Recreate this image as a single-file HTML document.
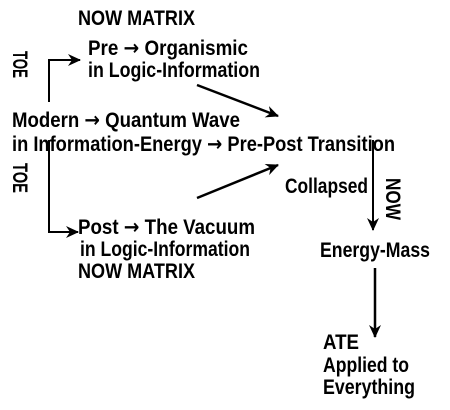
<!DOCTYPE html>
<html><head><style>
html,body{margin:0;padding:0;background:#fff;}
svg{display:block;}
text{font-family:"Liberation Sans",Arial,sans-serif;font-weight:bold;font-size:21px;fill:#000;}
.ar{font-family:"DejaVu Sans",sans-serif;font-weight:bold;}
</style></head><body>
<svg width="450" height="410" viewBox="0 0 450 410">
<defs>
<marker id="b" markerWidth="14" markerHeight="14" refX="12" refY="7" orient="auto" markerUnits="userSpaceOnUse">
<path d="M0,1 L13,7 L0,13 L4,7 Z" fill="#000"/>
</marker>
</defs>
<text x="78" y="25" textLength="117" lengthAdjust="spacingAndGlyphs">NOW MATRIX</text>
<text x="88" y="55" textLength="160" lengthAdjust="spacingAndGlyphs">Pre <tspan class="ar">→</tspan> Organismic</text>
<text x="88" y="77" textLength="172" lengthAdjust="spacingAndGlyphs">in Logic-Information</text>
<text x="12" y="127" textLength="228" lengthAdjust="spacingAndGlyphs">Modern <tspan class="ar">→</tspan> Quantum Wave</text>
<text x="12" y="151" textLength="383" lengthAdjust="spacingAndGlyphs">in Information-Energy <tspan class="ar">→</tspan> Pre-Post Transition</text>
<text x="285" y="193" textLength="83" lengthAdjust="spacingAndGlyphs">Collapsed</text>
<text x="78" y="234" textLength="177" lengthAdjust="spacingAndGlyphs">Post <tspan class="ar">→</tspan> The Vacuum</text>
<text x="80" y="256" textLength="170" lengthAdjust="spacingAndGlyphs">in Logic-Information</text>
<text x="78" y="278" textLength="117" lengthAdjust="spacingAndGlyphs">NOW MATRIX</text>
<text x="320" y="257" textLength="110" lengthAdjust="spacingAndGlyphs">Energy-Mass</text>
<text x="323" y="349" textLength="36" lengthAdjust="spacingAndGlyphs">ATE</text>
<text x="323" y="372" textLength="86" lengthAdjust="spacingAndGlyphs">Applied to</text>
<text x="323" y="394" textLength="92" lengthAdjust="spacingAndGlyphs">Everything</text>
<text transform="translate(13,51) rotate(90)" textLength="27" lengthAdjust="spacingAndGlyphs" x="0" y="0">TOE</text>
<text transform="translate(13,163) rotate(90)" textLength="30" lengthAdjust="spacingAndGlyphs" x="0" y="0">TOE</text>
<text transform="translate(386,178) rotate(90)" textLength="42" lengthAdjust="spacingAndGlyphs" x="0" y="0">NOW</text>
<g stroke="#000" stroke-width="2" fill="none">
<path d="M49,102 V60 H80" marker-end="url(#b)"/>
<path d="M49,140 V232 H78" marker-end="url(#b)"/>
<path d="M197,85 L278,116" stroke-width="2.5" marker-end="url(#b)"/>
<path d="M197,198 L278,165" stroke-width="2.5" marker-end="url(#b)"/>
<path d="M373,140 V230" marker-end="url(#b)"/>
<path d="M375,268 V337" stroke-width="2.5" marker-end="url(#b)"/>
</g>
</svg>
</body></html>
